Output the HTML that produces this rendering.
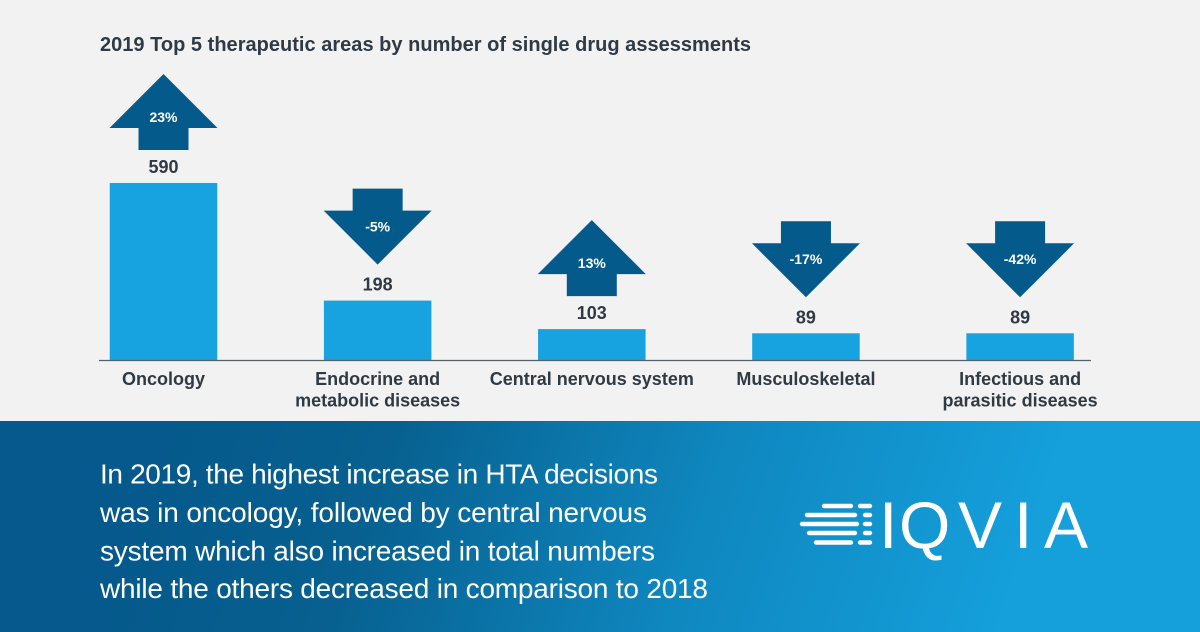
<!DOCTYPE html>
<html lang="en">
<head>
<meta charset="utf-8">
<title>2019 Top 5 therapeutic areas</title>
<style>
html,body{margin:0;padding:0;width:1200px;height:632px;overflow:hidden;background:#f2f2f2}
svg{display:block}
text{font-family:"Liberation Sans",sans-serif}
</style>
</head>
<body>
<svg id="chart" xmlns="http://www.w3.org/2000/svg" width="1200" height="632" viewBox="0 0 1200 632">
  <defs>
    <linearGradient id="panelGrad" gradientUnits="userSpaceOnUse" x1="180" y1="380" x2="1000" y2="660">
      <stop offset="0" stop-color="#05598c"/>
      <stop offset="0.25" stop-color="#07608f"/>
      <stop offset="0.62" stop-color="#0f87bf"/>
      <stop offset="1" stop-color="#15a0dc"/>
    </linearGradient>
  </defs>
  <rect x="0" y="0" width="1200" height="421" fill="#f2f2f2"/>
  <text x="100" y="51" font-size="20" font-weight="700" fill="#2f3a44" textLength="651" lengthAdjust="spacing">2019 Top 5 therapeutic areas by number of single drug assessments</text>
  <g id="marks"></g>
  <line x1="99" y1="360.5" x2="1091" y2="360.5" stroke="#56606a" stroke-width="1.3"/>

  <rect x="0" y="421" width="1200" height="211" fill="url(#panelGrad)"/>
  <g font-size="28" fill="#ffffff">
    <text x="100" y="483.7" textLength="558" lengthAdjust="spacing">In 2019, the highest increase in HTA decisions</text>
    <text x="100" y="522" textLength="547" lengthAdjust="spacing">was in oncology, followed by central nervous</text>
    <text x="100" y="560.3" textLength="555" lengthAdjust="spacing">system which also increased in total numbers</text>
    <text x="100" y="598.2" textLength="608" lengthAdjust="spacing">while the others decreased in comparison to 2018</text>
  </g>

  <g>
    <g stroke="#ffffff" stroke-width="4.4" stroke-linecap="round">
      <line x1="824" y1="506" x2="851" y2="506"/><line x1="860" y1="506" x2="870" y2="506"/>
      <line x1="807" y1="515" x2="855" y2="515"/><line x1="865" y1="515" x2="870" y2="515"/>
      <line x1="802" y1="524" x2="857" y2="524"/><line x1="865" y1="524" x2="870" y2="524"/>
      <line x1="809" y1="533" x2="855" y2="533"/><line x1="865" y1="533" x2="870" y2="533"/>
      <line x1="816" y1="542.5" x2="851" y2="542.5"/><line x1="860" y1="542.5" x2="870" y2="542.5"/>
    </g>
    <text y="548" font-size="66" fill="#ffffff" x="879 899 958 1014 1044">IQVIA</text>
  </g>
</svg>
<script>
const categories = [["Oncology"], ["Endocrine and", "metabolic diseases"], ["Central nervous system"], ["Musculoskeletal"], ["Infectious and", "parasitic diseases"]];
const assessments = [590, 198, 103, 89, 89];
const changePercent = [23, -5, 13, -17, -42];

const NS = 'http://www.w3.org/2000/svg';
const marks = document.getElementById('marks');
const BASE_Y = 360;
const PX_PER_UNIT = 0.3;
const FIRST_CENTER = 163.5;
const STEP = 214.15;
const BAR_W = 107.5;
const ARROW_W = 108;

function xCenter(i) { return FIRST_CENTER + STEP * i; }
function yScale(v) { return BASE_Y - v * PX_PER_UNIT; }
function make(tag, attrs, text) {
  const el = document.createElementNS(NS, tag);
  for (const k in attrs) el.setAttribute(k, attrs[k]);
  if (text !== undefined) el.textContent = text;
  marks.appendChild(el);
  return el;
}
function arrowPoints(cx, top, up) {
  const hw = ARROW_W / 2, sw = 25, h = 76, head = 54;
  if (up) {
    const sh = top + head, b = top + h;
    return [[cx, top], [cx + hw, sh], [cx + sw, sh], [cx + sw, b], [cx - sw, b], [cx - sw, sh], [cx - hw, sh]].map(p => p.join(',')).join(' ');
  }
  const sh = top + h - head, t = top + h;
  return [[cx - sw, top], [cx + sw, top], [cx + sw, sh], [cx + hw, sh], [cx, t], [cx - hw, sh], [cx - sw, sh]].map(p => p.join(',')).join(' ');
}

assessments.forEach(function (value, i) {
  const cx = xCenter(i);
  const top = yScale(value);

  const bar = make('rect', { x: cx - BAR_W / 2, y: top, width: BAR_W, height: BASE_Y - top, fill: '#17a3df' });
  
  

  const valueLabel = make('text', { x: cx, y: top - 10, 'text-anchor': 'middle', 'font-size': 18, 'font-weight': 700, fill: '#2f3a44' }, String(value));
  
  

  const change = changePercent[i];
  const up = change >= 0;
  const arrowTop = top - (up ? 109 : 112);
  const arrow = make('polygon', { points: arrowPoints(cx, arrowTop, up), fill: '#055a8c' });
  
  

  const changeLabel = make('text', { x: cx, y: arrowTop + (up ? 48 : 42.7), 'text-anchor': 'middle', 'font-size': 14, 'font-weight': 700, fill: '#ffffff' }, change + '%');
  
  

  categories[i].forEach(function (line, j) {
    const cat = make('text', { x: cx, y: 385 + j * 21.5, 'text-anchor': 'middle', 'font-size': 18, 'font-weight': 700, fill: '#2f3a44' }, line);
    
    
  });
});
</script>
</body>
</html>
